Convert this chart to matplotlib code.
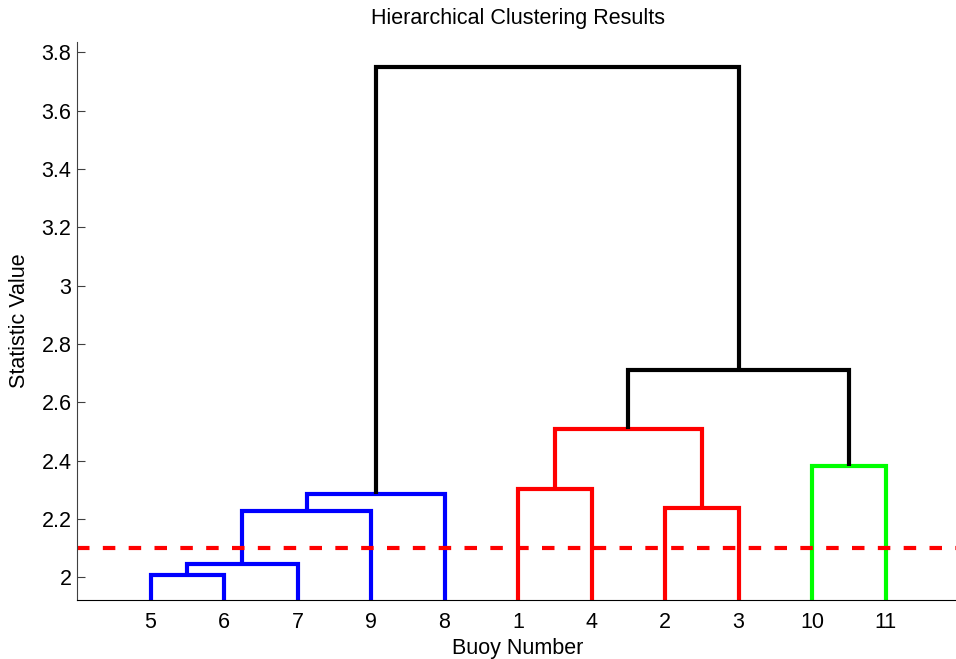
import numpy as np
import matplotlib
matplotlib.use("Agg")
import matplotlib.pyplot as plt

plt.rcParams['font.family'] = ['Liberation Sans', 'DejaVu Sans']

# leaf order along the x axis (buoy numbers)
leaf_order = [5, 6, 7, 9, 8, 1, 4, 2, 3, 10, 11]
n_leaves = 11

# merges: (cluster a, cluster b, height); new clusters numbered 12, 13, ...
merge_a = [5, 12, 13, 14, 1, 2, 16, 10, 18, 15]
merge_b = [6, 7, 9, 8, 4, 3, 17, 11, 19, 20]
merge_h = [2.008, 2.045, 2.228, 2.285, 2.302, 2.237, 2.51, 2.382, 2.711, 3.75]
merge_col = ['b', 'b', 'b', 'b', 'r', 'r', 'r', 'g', 'k', 'k']

cutoff = 2.102

color_map = {'b': (0, 0, 1), 'r': (1, 0, 0), 'g': (0, 1, 0), 'k': (0, 0, 0)}
fs = 15.5

fig = plt.figure(figsize=(9.56, 6.59), dpi=100)
ax = fig.add_axes([77 / 956, 59 / 659, 882 / 956, 558 / 659])

# x position and height of every cluster
xpos = {leaf: i + 1 for i, leaf in enumerate(leaf_order)}
ypos = {leaf: 0.0 for leaf in leaf_order}
for k in range(len(merge_h)):
    a, b, h = merge_a[k], merge_b[k], merge_h[k]
    xa, xb = xpos[a], xpos[b]
    ya, yb = ypos[a], ypos[b]
    ax.plot([xa, xa, xb, xb], [ya, h, h, yb], color=color_map[merge_col[k]],
            lw=3, solid_joinstyle='miter', solid_capstyle='butt')
    cid = n_leaves + 1 + k
    xpos[cid] = (xa + xb) / 2
    ypos[cid] = h

ax.axhline(cutoff, color=(1, 0, 0), lw=3, dashes=(3, 3.2))

ax.set_xlim(0, 12)
ax.set_ylim(1.9225, 3.835)
ax.set_xticks(range(1, n_leaves + 1))
ax.set_xticklabels([str(v) for v in leaf_order])
ax.set_yticks(np.arange(2.0, 3.81, 0.2))
ax.set_yticklabels(['2', '2.2', '2.4', '2.6', '2.8', '3', '3.2', '3.4', '3.6', '3.8'])

ax.spines['top'].set_visible(False)
ax.spines['right'].set_visible(False)
ax.spines['left'].set_linewidth(0.8)
ax.spines['left'].set_color('#404040')
ax.spines['bottom'].set_linewidth(0.8)
ax.tick_params(axis='y', direction='in', length=6, width=0.8, pad=4,
               labelsize=fs, color='#404040')
ax.tick_params(axis='x', length=0, pad=9, labelsize=fs)

ax.set_xlabel('Buoy Number', fontsize=fs, labelpad=3)
ax.set_ylabel('Statistic Value', fontsize=fs, labelpad=8)
ax.set_title('Hierarchical Clustering Results', fontsize=fs, pad=13)

fig.savefig('out.png', dpi=100)
